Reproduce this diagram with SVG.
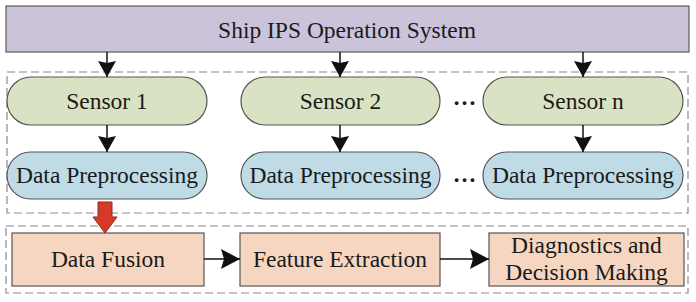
<svg xmlns="http://www.w3.org/2000/svg" width="696" height="302" viewBox="0 0 696 302">
<style>
text{font-family:'Liberation Serif','Times New Roman',serif;font-size:23.5px;fill:#1a1a1a;text-anchor:middle}
.dash{fill:none;stroke:#8a8a8a;stroke-width:1.2;stroke-dasharray:8 4}
.sys{fill:#cbc3da;stroke:#5a5a5a;stroke-width:1.2}
.sen{fill:#d9e3c3;stroke:#555;stroke-width:1.2}
.pre{fill:#bedbe6;stroke:#555;stroke-width:1.2}
.proc{fill:#f6d6c0;stroke:#555;stroke-width:1.2}
.con{stroke:#111;stroke-width:1.5;fill:none;marker-end:url(#ah)}
.conh{stroke:#111;stroke-width:1.5;fill:none;marker-end:url(#ahh)}
</style>
<defs>
<marker id="ah" markerUnits="userSpaceOnUse" markerWidth="17" markerHeight="20" refX="16" refY="9.5" orient="auto">
<path d="M0,0.5 L16,9.5 L0,18.5 L2,9.5 Z" fill="#111"/>
</marker>
<marker id="ahh" markerUnits="userSpaceOnUse" markerWidth="20" markerHeight="22" refX="19" refY="10.5" orient="auto">
<path d="M0,0.5 L19,10.5 L0,20.5 L3,10.5 Z" fill="#111"/>
</marker>
</defs>
<rect width="696" height="302" fill="#fff"/>
<rect class="dash" x="7" y="72" width="681" height="141"/>
<rect class="dash" x="6" y="226" width="682" height="67"/>
<g font-family="Liberation Serif, Times New Roman, serif" font-size="23.5">
<g id="system">
<rect class="sys" x="6" y="6" width="683" height="46"/>
<text x="347" y="38">Ship IPS Operation System</text>
</g>
<g id="sensor1">
<rect class="sen" x="7" y="77" width="200" height="48" rx="24"/>
<text x="107" y="109">Sensor 1</text>
</g>
<g id="sensor2">
<rect class="sen" x="241" y="77" width="199" height="48" rx="24"/>
<text x="340.5" y="109">Sensor 2</text>
</g>
<g id="sensorn">
<rect class="sen" x="483" y="77" width="200" height="48" rx="24"/>
<text x="583" y="109">Sensor n</text>
</g>
<g id="pre1">
<rect class="pre" x="7" y="152" width="200" height="47" rx="23.5"/>
<text x="107" y="183">Data Preprocessing</text>
</g>
<g id="pre2">
<rect class="pre" x="241" y="152" width="199" height="47" rx="23.5"/>
<text x="340.5" y="183">Data Preprocessing</text>
</g>
<g id="pren">
<rect class="pre" x="483" y="152" width="200" height="47" rx="23.5"/>
<text x="583" y="183">Data Preprocessing</text>
</g>
<g id="dots">
<text x="464.5" y="105" font-size="27" font-weight="bold">…</text>
<text x="464.5" y="182" font-size="27" font-weight="bold">…</text>
</g>
<g id="fusion">
<rect class="proc" x="12" y="233" width="192" height="53"/>
<text x="108" y="267">Data Fusion</text>
</g>
<g id="feature">
<rect class="proc" x="240" y="233" width="200" height="53"/>
<text x="340" y="267">Feature Extraction</text>
</g>
<g id="diag">
<rect class="proc" x="489" y="233" width="195" height="53"/>
<text x="586.5" y="253">Diagnostics and</text>
<text x="586.5" y="280">Decision Making</text>
</g>
</g>
<g id="connectors">
<line class="con" x1="107" y1="52" x2="107" y2="77"/>
<line class="con" x1="340" y1="52" x2="340" y2="77"/>
<line class="con" x1="583" y1="52" x2="583" y2="77"/>
<line class="con" x1="107" y1="125" x2="107" y2="152"/>
<line class="con" x1="340" y1="125" x2="340" y2="152"/>
<line class="con" x1="583" y1="125" x2="583" y2="152"/>
<line class="conh" x1="204" y1="259" x2="240" y2="259"/>
<line class="conh" x1="440" y1="259" x2="489" y2="259"/>
<path d="M98,202 L112,202 L112,217 L117,217 L105,233 L93,217 L98,217 Z" fill="#d63a26" stroke="#8a2a1a" stroke-width="1"/>
</g>
</svg>
